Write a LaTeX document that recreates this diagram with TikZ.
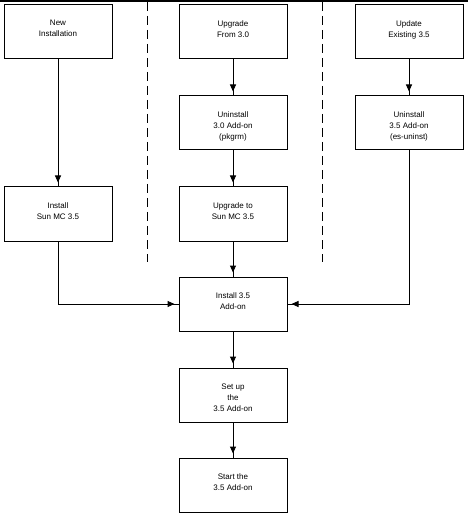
\documentclass[tikz,border=0pt]{standalone}
\usepackage{fontspec}
\setmainfont{Liberation Sans}
\usetikzlibrary{arrows.meta}

\newcommand{\steptext}[1]{\parbox[t][46pt][t]{100pt}{\centering\fontsize{8}{11}\selectfont\vspace*{11.5pt}#1}}

\begin{document}
\begin{tikzpicture}[x=1pt, y=-1pt,
    stepbox/.style={draw, line width=1pt, inner sep=4pt, minimum width=108pt, minimum height=54pt},
    flow/.style={draw, line width=1pt, postaction={draw, line width=1pt, shorten >=4pt, -{Triangle[length=7pt, width=6pt]}}},
    divider/.style={line width=1pt, dash pattern=on 9pt off 5pt}]
    \useasboundingbox (0, 0) rectangle (468, 518);

    % top rule
    \draw[line width=2pt] (0, 1) -- (468, 1);

    % column dividers
    \draw[divider] (147, 2) -- (147, 262);
    \draw[divider] (322, 2) -- (322, 262);

    % starting points
    \node[stepbox] (newinst) at (58, 32) {\steptext{New\\Installation}};
    \node[stepbox] (upgr) at (233, 32) {\steptext{Upgrade\\From 3.0}};
    \node[stepbox] (updt) at (409, 32) {\steptext{Update\\Existing 3.5}};

    % uninstall old add-on
    \node[stepbox] (unthirty) at (233, 123) {\steptext{Uninstall\\3.0 Add-on\\(pkgrm)}};
    \node[stepbox] (unthirtyfive) at (409, 123) {\steptext{Uninstall\\3.5 Add-on\\(es-uninst)}};

    % base product
    \node[stepbox] (instsun) at (58, 214) {\steptext{Install\\Sun MC 3.5}};
    \node[stepbox] (upgsun) at (233, 214) {\steptext{Upgrade to\\Sun MC 3.5}};

    % common path
    \node[stepbox] (instadd) at (233, 304) {\steptext{Install 3.5\\Add-on}};
    \node[stepbox] (setup) at (233, 395) {\steptext{Set up\\the\\3.5 Add-on}};
    \node[stepbox] (start) at (233, 485) {\steptext{Start the\\3.5 Add-on}};

    % connectors
    \draw[flow] (newinst) -- (instsun);
    \draw[flow] (upgr) -- (unthirty);
    \draw[flow] (unthirty) -- (upgsun);
    \draw[flow] (updt) -- (unthirtyfive);
    \draw[flow] (upgsun) -- (instadd);
    \draw[flow] (instsun.south) |- (instadd.west);
    \draw[flow] (unthirtyfive.south) |- (instadd.east);
    \draw[flow] (instadd) -- (setup);
    \draw[flow] (setup) -- (start);
\end{tikzpicture}
\end{document}
